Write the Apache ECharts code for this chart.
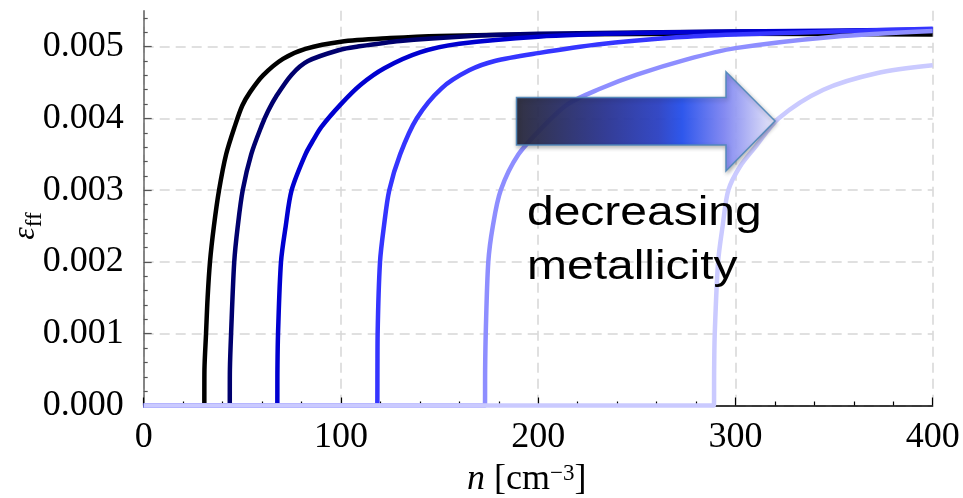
<!DOCTYPE html>
<html>
<head>
<meta charset="utf-8">
<script src="https://cdn.jsdelivr.net/npm/echarts@6/dist/echarts.min.js"></script>
<style>html,body{margin:0;padding:0;background:#fff}#c{width:963px;height:498px}</style>
</head>
<body>
<div id="c"></div>
<script>
// ---- data (n [cm^-3], epsilon_ff) ----
const curveBlack = [[0,0],[30.7,0],[30.8,0.0005],[31.6,0.001],[32.4,0.0015],[33.6,0.002],[35.6,0.0025],[38.2,0.003],[41.8,0.0035],[46.3,0.0039],[50,0.00418],[54,0.00437],[60.5,0.0046],[70.6,0.00483],[82,0.00497],[100,0.00507],[125,0.00512],[150,0.00515],[200,0.00517],[300,0.00518],[400,0.00517]];
const curveNavy = [[0,0],[43.6,0],[43.7,0.0005],[44.3,0.001],[45.9,0.002],[47.7,0.0025],[50.2,0.003],[54.5,0.0035],[59.8,0.0039],[63,0.0041],[67,0.0043],[75,0.00461],[83.3,0.0048],[100,0.00496],[108,0.005],[130,0.00508],[160,0.00514],[200,0.00518],[300,0.00521],[400,0.00522]];
const curveBlue = [[0,0],[67.7,0],[67.8,0.0005],[68.1,0.001],[69.6,0.002],[72,0.0025],[75,0.003],[82,0.0035],[86,0.0037],[90,0.00388],[100,0.0042],[110,0.00447],[122,0.0047],[140,0.00492],[160,0.00504],[200,0.00514],[250,0.00519],[300,0.00521],[400,0.00524]];
const curveMid = [[0,0],[118.4,0],[118.5,0.0005],[118.6,0.001],[119.8,0.002],[121.8,0.0025],[124.5,0.003],[130,0.0035],[138.4,0.004],[151,0.00442],[165,0.00467],[178,0.0048],[200,0.00491],[230,0.00503],[270,0.00513],[300,0.00517],[350,0.00521],[400,0.00525]];
const curveLight = [[0,0],[173,0],[173.1,0.0005],[173.4,0.001],[174.7,0.002],[177,0.0025],[181,0.003],[190,0.0035],[203,0.0039],[215,0.0042],[231,0.00441],[250,0.00461],[275,0.00482],[300,0.00498],[350,0.00514],[400,0.00522]];
const curvePale = [[0,0],[289.1,0],[289.2,0.0005],[289.5,0.001],[291.2,0.002],[293.5,0.0025],[296.4,0.003],[302.3,0.00333],[310,0.0036],[321.8,0.004],[344.6,0.0044],[371.6,0.00463],[400,0.00474]];

const xTicks = [0, 100, 200, 300, 400];
const yMajorTicks = [0, 0.001, 0.002, 0.003, 0.004, 0.005];
const yMinorTicks = [0.0002,0.0004,0.0006,0.0008,0.0012,0.0014,0.0016,0.0018,0.0022,0.0024,0.0026,0.0028,0.0032,0.0034,0.0036,0.0038,0.0042,0.0044,0.0046,0.0048,0.0052,0.0054];

const seriesDefs = [
  {name: 'Z1', data: curveBlack, color: '#000000'},
  {name: 'Z2', data: curveNavy, color: '#00006e'},
  {name: 'Z3', data: curveBlue, color: '#0000d0'},
  {name: 'Z4', data: curveMid, color: '#3535ff'},
  {name: 'Z5', data: curveLight, color: '#8e8eff'},
  {name: 'Z6', data: curvePale, color: '#cacaff'}
];

const serif = "'Liberation Serif', 'DejaVu Serif', serif";
const sans = "'Liberation Sans', Arial, sans-serif";
const gridColor = '#d6d6d6';

const chart = echarts.init(document.getElementById('c'), null, {renderer: 'canvas'});
chart.setOption({
  animation: false,
  backgroundColor: '#ffffff',
  grid: {left: 143.7, right: 30.3, top: 10.8, bottom: 92.5, containLabel: false},
  xAxis: {
    type: 'value', min: xTicks[0], max: xTicks[xTicks.length - 1], interval: 100,
    axisLine: {show: true, lineStyle: {color: '#000', width: 1.5}},
    axisTick: {show: true, inside: true, length: 8, lineStyle: {color: '#000', width: 1.2}},
    minorTick: {show: true, splitNumber: 5, length: 4, lineStyle: {color: '#000', width: 1.2}},
    splitLine: {show: true, lineStyle: {color: gridColor, width: 1.5, type: [10, 6]}},
    axisLabel: {fontFamily: serif, fontSize: 36, color: '#000', margin: 14}
  },
  yAxis: [{
    type: 'value', min: 0, max: 0.0055, interval: 0.001,
    axisLine: {show: true, lineStyle: {color: '#666', width: 1.5}},
    axisTick: {show: true, inside: true, length: 8, customValues: yMajorTicks, lineStyle: {color: '#555', width: 1.2}},
    axisLabel: {customValues: yMajorTicks, fontFamily: serif, fontSize: 36, color: '#000', margin: 20,
      formatter: v => v.toFixed(3)},
    splitLine: {show: true, lineStyle: {color: gridColor, width: 1.5, type: [10, 6]}},
    minorTick: {show: false}
  }, {
    type: 'value', min: 0, max: 0.0055, interval: 0.001, position: 'left',
    axisLine: {show: false},
    axisTick: {show: true, inside: true, length: 4, customValues: yMinorTicks, lineStyle: {color: '#555', width: 1.2}},
    axisLabel: {show: false},
    splitLine: {show: false}
  }],
  series: seriesDefs.map(s => ({
    type: 'line', name: s.name, data: s.data, showSymbol: false, symbol: 'none',
    clip: false, smooth: 0.3,
    lineStyle: {color: s.color, width: 4.5, cap: 'butt', join: 'round'},
    itemStyle: {color: s.color}
  })),
  graphic: [
    {
      type: 'polygon', z: 50,
      shape: {points: [[516.5,97.5],[726,97.5],[726,71.7],[775,121],[726,171],[726,145],[516.5,145]]},
      style: {
        fill: new echarts.graphic.LinearGradient(0, 0, 1, 0, [
          {offset: 0, color: '#28283a'},
          {offset: 0.35, color: '#2a3494'},
          {offset: 0.55, color: '#2b41c6'},
          {offset: 0.64, color: '#2450f0'},
          {offset: 0.8, color: '#7f86f6'},
          {offset: 1, color: '#ececfd'}
        ]),
        stroke: '#5088ba', lineWidth: 1.5, opacity: 0.93,
        shadowBlur: 4, shadowOffsetX: 1, shadowOffsetY: 2, shadowColor: 'rgba(0,0,0,0.3)'
      }
    },
    {
      type: 'text', z: 50, x: 527, y: 214, scaleX: 1.17, scaleY: 1,
      style: {text: 'decreasing', x: 0, y: 0, fill: '#000', font: "41px " + sans, textAlign: 'left', verticalAlign: 'middle'}
    },
    {
      type: 'text', z: 50, x: 527, y: 268, scaleX: 1.17, scaleY: 1,
      style: {text: 'metallicity', x: 0, y: 0, fill: '#000', font: "41px " + sans, textAlign: 'left', verticalAlign: 'middle'}
    },
    {
      type: 'text', z: 50, x: 28, y: 226, rotation: Math.PI / 2,
      style: {
        text: '{e|ε}{s|ff}', x: 0, y: 0, textAlign: 'center', verticalAlign: 'middle', fill: '#000',
        rich: {
          e: {fontFamily: serif, fontStyle: 'italic', fontSize: 32, fill: '#000', verticalAlign: 'top'},
          s: {fontFamily: serif, fontSize: 23, fill: '#000', padding: [14, 0, 0, 0], verticalAlign: 'top'}
        }
      }
    },
    {
      type: 'text', z: 50, x: 467, y: 480,
      style: {
        text: '{n|n}{r| [cm}{s|−3}{r|]}', x: 0, y: 0, textAlign: 'left', verticalAlign: 'middle', fill: '#000',
        rich: {
          n: {fontFamily: serif, fontStyle: 'italic', fontSize: 36, fill: '#000', verticalAlign: 'bottom'},
          r: {fontFamily: serif, fontSize: 36, fill: '#000', verticalAlign: 'bottom'},
          s: {fontFamily: serif, fontSize: 23, fill: '#000', verticalAlign: 'top'}
        }
      }
    }
  ]
});
</script>
</body>
</html>
